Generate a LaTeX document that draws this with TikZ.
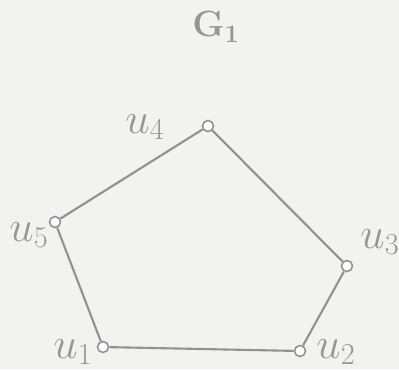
\documentclass[tikz,border=0pt]{standalone}
\usepackage{tikz}
\usetikzlibrary{positioning}
\definecolor{pageFill}{RGB}{242,242,240}
\definecolor{inkLine}{RGB}{145,145,145}
\definecolor{inkText}{RGB}{150,150,150}
\tikzset{
  vtx/.style={circle, draw=inkLine, fill=white, line width=0.9pt, inner sep=0pt, minimum size=2.2mm},
  edge/.style={draw=inkLine, line width=1.2pt},
  lbl/.style={text=inkText, font=\fontsize{23}{26}\selectfont, inner sep=1pt},
}
\begin{document}
\begin{tikzpicture}[x=0.02cm, y=-0.02cm]
  \fill[pageFill] (0,0) rectangle (399,369);
  \useasboundingbox (0,0) rectangle (399,369);
  \node[lbl, font=\fontsize{22}{26}\selectfont\boldmath] (title) at (216,27) {$\mathbf{G}_1$};
  % vertices
  \node[vtx] (u1) at (103,347) {};
  \node[vtx] (u2) at (300,351) {};
  \node[vtx] (u3) at (347,266) {};
  \node[vtx] (u4) at (208,126) {};
  \node[vtx] (u5) at (55,222) {};
  % labels
  \node[lbl] (l1) at (73,352) {$u_1$};
  \node[lbl] (l2) at (336,352) {$u_2$};
  \node[lbl] (l3) at (380,242) {$u_3$};
  \node[lbl] (l4) at (145,127) {$u_4$};
  \node[lbl] (l5) at (29,235) {$u_5$};
  % edges
  \draw[edge] (u1) -- (u2) -- (u3) -- (u4) -- (u5) -- (u1);
\end{tikzpicture}
\end{document}
